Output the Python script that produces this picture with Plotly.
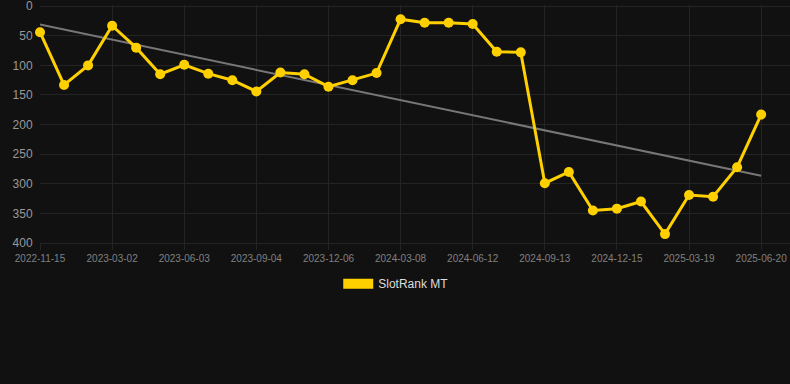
import numpy as np
import plotly.graph_objects as go

dates = [
    "2022-11-15", "2022-12-20", "2023-01-25", "2023-03-02", "2023-04-02", "2023-05-03",
    "2023-06-03", "2023-07-04", "2023-08-04", "2023-09-04", "2023-10-05", "2023-11-05",
    "2023-12-06", "2024-01-06", "2024-02-06", "2024-03-08", "2024-04-08", "2024-05-10",
    "2024-06-12", "2024-07-13", "2024-08-13", "2024-09-13", "2024-10-14", "2024-11-14",
    "2024-12-15", "2025-01-15", "2025-02-16", "2025-03-19", "2025-04-19", "2025-05-20",
    "2025-06-20",
]
ranks = [
    44, 133, 100, 33, 70, 115, 99, 114, 125, 144,
    112, 115, 136, 125, 113, 22, 28, 28, 30, 77,
    78, 299, 280, 345, 342, 330, 385, 319, 322, 272,
    183,
]
tick_labels = [
    "2022-11-15", "2023-03-02", "2023-06-03", "2023-09-04", "2023-12-06", "2024-03-08",
    "2024-06-12", "2024-09-13", "2024-12-15", "2025-03-19", "2025-06-20",
]
y_ticks = [0, 50, 100, 150, 200, 250, 300, 350, 400]
series_name = "SlotRank MT"

# linear trend (least squares over point index)
idx = np.arange(len(ranks))
slope, intercept = np.polyfit(idx, np.array(ranks, dtype=float), 1)
trend = [slope * i + intercept for i in idx]

GOLD = "#FFD000"
BG = "#111111"
GRID = "#242424"

fig = go.Figure()
fig.add_trace(go.Scatter(
    x=dates, y=trend, mode="lines",
    line=dict(color="#777777", width=2),
    showlegend=False, hoverinfo="skip",
))
fig.add_trace(go.Scatter(
    x=dates, y=ranks, mode="lines+markers",
    line=dict(color=GOLD, width=3),
    marker=dict(color=GOLD, size=10),
    showlegend=False, cliponaxis=False,
))
# legend entry (rectangle swatch)
fig.add_trace(go.Scatter(
    x=[None], y=[None], mode="lines",
    line=dict(color=GOLD, width=12),
    name=series_name, showlegend=True,
))

fig.update_layout(
    width=790, height=384,
    margin=dict(l=40, r=0, t=5, b=141),
    paper_bgcolor=BG, plot_bgcolor=BG,
    font=dict(family="Liberation Sans, Arial, sans-serif", color="#999999"),
    legend=dict(
        orientation="h", x=0.475, xanchor="center", y=-0.11, yanchor="top",
        font=dict(size=12, color="#dddddd"), bgcolor="rgba(0,0,0,0)",
    ),
    xaxis=dict(
        type="category", categoryorder="array", categoryarray=dates,
        range=[0, 31.2],
        tickmode="array", tickvals=tick_labels, ticktext=tick_labels,
        tickfont=dict(size=10, color="#808080"),
        showgrid=True, gridcolor=GRID, gridwidth=1,
        ticks="outside", ticklen=6, tickcolor=GRID,
        showline=True, linecolor=GRID, zeroline=False,
        ticklabeloverflow="allow",
    ),
    yaxis=dict(
        range=[400, -2], tickmode="array",
        tickvals=y_ticks,
        tickfont=dict(size=12, color="#999999"),
        showgrid=True, gridcolor=GRID, gridwidth=1,
        zeroline=False, showline=False,
        ticks="outside", ticklen=4, tickcolor="rgba(0,0,0,0)",
        ticklabeloverflow="allow",
    ),
)

fig.write_html(
    "out.html",
    config={"displayModeBar": False},
    post_script="document.body.style.margin='0';document.body.style.background='#111111';",
)
